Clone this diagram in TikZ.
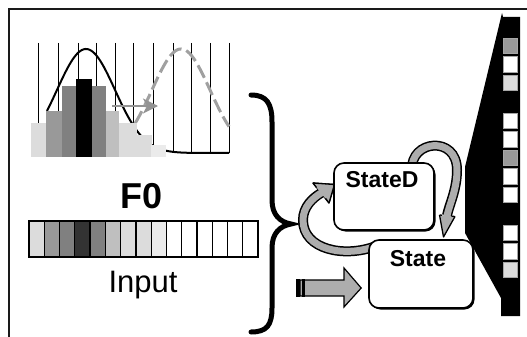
\documentclass[tikz,border=0pt]{standalone}
\usepackage{fontspec}
\setmainfont{Liberation Sans}
\usetikzlibrary{arrows.meta}
\definecolor{gA}{HTML}{DCDCDC}
\definecolor{gB}{HTML}{999999}
\definecolor{gC}{HTML}{808080}
\definecolor{gD}{HTML}{333333}
\definecolor{gE}{HTML}{BFBFBF}
\definecolor{gF}{HTML}{EBEBEB}
\definecolor{arrg}{HTML}{ADADAD}
\definecolor{dashg}{HTML}{A0A0A0}
\definecolor{frame}{HTML}{1A1A1A}
\begin{document}
\begin{tikzpicture}[x=1pt,y=-1pt,
  stbox/.style={draw=black, line width=1.6pt, fill=white, rounded corners=10pt, inner sep=0pt},
  stshadow/.style={fill=black, rounded corners=10pt, inner sep=0pt},
  stlabel/.style={anchor=base, inner sep=0pt, font=\fontsize{23}{25}\selectfont\bfseries},
  shaftout/.style={draw=black, line width=10pt},
  shaftin/.style={draw=arrg, line width=7pt},
  headtri/.style={fill=arrg, draw=black, line width=1.3pt, line join=round},
  cell/.style={draw=black, line width=1.3pt},
  sq/.style={draw=gray!70, line width=0.6pt}]
\useasboundingbox (0,0) rectangle (527,337);
% frame
\draw[frame, line width=2pt] (9,337) -- (9,9) -- (527,9);

% ---- histogram ----
\foreach \xx in {38,58,78,96,115,133,153,173,191,210,229}
  \draw[line width=0.8pt] (\xx,43) -- (\xx,153);
\draw[line width=2pt] plot[domain=47:229, samples=100, smooth]
  (\x, {153-104*exp(-0.5*((\x-86)/29)*((\x-86)/29))});
\draw[dashg, line width=3pt, dash pattern=on 14pt off 5pt] plot[domain=135:229, samples=80, smooth]
  (\x, {153-104*exp(-0.5*((\x-181)/29)*((\x-181)/29))});
\fill[gA] (31,123) rectangle (46,157);
\fill[gB] (46,111) rectangle (62,157);
\fill[gC] (62,86) rectangle (78,157);
\fill[gC] (92,86) rectangle (106,157);
\fill[black] (76,79) rectangle (92,157);
\fill[gE] (106,111) rectangle (119,157);
\fill[gA] (119,123) rectangle (137,157);
\fill[gA] (137,135) rectangle (152,157);
\fill[gF] (151,145) rectangle (166,157);
\coordinate (hs) at (112,106);
\coordinate (he) at (158,106);
\draw[gray!85, line width=1.6pt, -{Stealth[length=15pt,width=15pt,inset=4pt]}] (hs) -- (he);

% ---- F0 and input ----
\node[anchor=base, inner sep=0pt, font=\fontsize{36}{40}\selectfont\bfseries] (f0) at (142,208) {F0};
\foreach \c [count=\i from 0] in {gA,gB,gC,gD,gC,gE,gA,gA,gF,white,white,white,white,white,white}
  \draw[cell, fill=\c] ({29+\i*15.27},221) rectangle ({29+(\i+1)*15.27},257);
\node[anchor=base, inner sep=0pt, font=\fontsize{31}{34}\selectfont] (inp) at (143,292) {Input};

% ---- brace ----
\draw[line width=5pt, line cap=round]
  (251,95) .. controls (267,95) and (272,104) .. (272,122) -- (272,200)
  .. controls (272,215) and (280,222) .. (291,224)
  .. controls (280,226) and (272,233) .. (272,248) -- (272,308)
  .. controls (272,325) and (267,332) .. (251,332);

% ---- black column ----
\fill[black] (502,13) -- (503,17) -- (520,17) -- (520,316) -- (501,316) -- (501,298)
  -- (465,233) -- (465,167) -- cycle;
\foreach \t/\c in {38/gB,56.5/white,75/gA,113/white,131.5/white,150/gB,168.5/white,187/white,225/white,243.5/white,262/gA}
  \draw[sq, fill=\c] (503,\t) rectangle (517,{\t+15.5});

% ---- state nodes (positions) ----
\coordinate (sdc) at (384,196.5);
\coordinate (stc) at (421,274);

% loop arrows (drawn under boxes)
\coordinate (la) at (376,246);
\coordinate (lb) at (321,193);
\fill[headtri] (313,183) -- (334.5,184.5) -- (329,203) -- cycle;
\draw[shaftout] (la) .. controls (345,258) and (303,250) .. (303,220)
  .. controls (303,207) and (312.5,198) .. (lb);
\draw[shaftin] (la) .. controls (345,258) and (303,250) .. (303,220)
  .. controls (303,207) and (312.5,198) .. ([shift={(1.2,-0.7)}]lb);
\draw[headtri, draw=none] (313,183) -- (334.5,184.5) -- (329,203) -- cycle;
\draw[black, line width=1.3pt, line join=round] (313,183) -- (334.5,184.5) -- (329,203);
\draw[black, line width=1.3pt] (313,183) -- (316.5,187.5);
\draw[black, line width=1.3pt] (329,203) -- (325.5,198.3);

\coordinate (ra) at (412,170);
\coordinate (rb) at (447,215.5);
\draw[shaftout] (ra) .. controls (410,140) and (457,135) .. (457,170)
  .. controls (457,190) and (449,205) .. (rb);
\draw[shaftin] (ra) .. controls (410,140) and (457,135) .. (457,170)
  .. controls (457,190) and (449,205) .. ([shift={(-0.2,1.3)}]rb);
\draw[headtri, draw=none] (439.5,215) -- (455,216.5) -- (443.5,237) -- cycle;
\draw[black, line width=1.3pt, line join=round] (439.5,215) -- (443.5,237) -- (455,216.5);
\draw[black, line width=1.3pt] (439.5,215) -- (442,215.2);
\draw[black, line width=1.3pt] (455,216.5) -- (451.5,216.2);

% boxes
\fill[black, rounded corners=10pt] (335.5,164.5) rectangle (435.5,231.5);
\node[stbox, minimum width=100pt, minimum height=67pt] (sd) at (sdc) {};
\fill[black, rounded corners=10pt] (370.5,241.5) rectangle (474.5,309.5);
\node[stbox, minimum width=104pt, minimum height=68pt] (st) at (stc) {};
\node[stlabel] (sdl) at (382,187) {StateD};
\node[stlabel] (stl) at (418,266) {State};

% input arrow
\coordinate (ia) at (296,288);
\coordinate (ib) at ([shift={(-7,14)}]st.west);
\draw[fill=arrg, draw=black, line width=1.2pt, line join=miter]
  ([shift={(4,-8)}]ia) -- ([shift={(48,-8)}]ia) -- ([shift={(48,-20)}]ia) -- (ib)
  -- ([shift={(48,19)}]ia) -- ([shift={(48,8)}]ia) -- ([shift={(4,8)}]ia) -- cycle;
\fill[black] ([shift={(0,-8.6)}]ia) rectangle ([shift={(4.2,8.6)}]ia);
\fill[black] ([shift={(5.8,-8.6)}]ia) rectangle ([shift={(9,8.6)}]ia);
\end{tikzpicture}
\end{document}
